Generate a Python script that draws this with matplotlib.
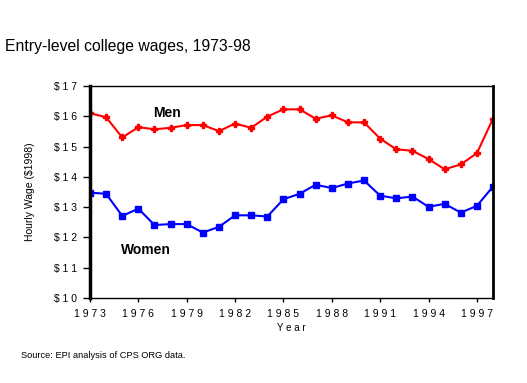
import matplotlib.pyplot as plt

plt.rcParams['font.family'] = ['Liberation Sans', 'DejaVu Sans']

years = list(range(1973, 1999))
men = [16.10, 15.97, 15.30, 15.64, 15.57, 15.62, 15.71, 15.71, 15.51, 15.76,
       15.62, 15.99, 16.23, 16.23, 15.92, 16.03, 15.80, 15.80, 15.26, 14.91,
       14.86, 14.59, 14.25, 14.41, 14.78, 15.92]
women = [13.48, 13.44, 12.71, 12.95, 12.41, 12.44, 12.44, 12.16, 12.35, 12.73,
         12.73, 12.69, 13.26, 13.44, 13.74, 13.63, 13.78, 13.88, 13.38, 13.29,
         13.35, 13.01, 13.11, 12.82, 13.04, 13.68]
y_ticks = [10, 11, 12, 13, 14, 15, 16, 17]
x_ticks = list(range(1973, 1998, 3))


def spaced(s):
    return ' '.join(s)


fig = plt.figure(figsize=(5.27, 3.83), dpi=100)
ax = fig.add_axes([90 / 527, 1 - 298 / 383, 403 / 527, 212 / 383])

ax.plot(years, men, color='#ff0000', lw=1.5, marker='P', markersize=5)
ax.plot(years, women, color='#0000ff', lw=1.5, marker='s', markersize=5)

ax.set_xlim(1973, 1998)
ax.set_ylim(10, 17)
ax.set_yticks(y_ticks)
ax.set_yticklabels([spaced('$' + str(v)) for v in y_ticks], fontsize=7.5)
ax.set_xticks(x_ticks)
ax.set_xticklabels([spaced(str(v)) for v in x_ticks], fontsize=7.5)
ax.tick_params(axis='y', length=5, width=1, pad=4)
ax.tick_params(axis='x', length=3, width=1, pad=5)

ax.spines['left'].set_linewidth(2.5)
ax.spines['right'].set_linewidth(2)
ax.spines['top'].set_linewidth(1)
ax.spines['bottom'].set_linewidth(1)

ax.text(1977.8, 16.1, 'Men', fontsize=10, fontweight='bold', ha='center', va='center')
ax.text(1976.5, 11.6, 'Women', fontsize=10, fontweight='bold', ha='center', va='center')

ax.set_ylabel('Hourly Wage ($1998)', fontsize=7.5, labelpad=14)
ax.set_xlabel(spaced('Year'), fontsize=7, labelpad=3)

fig.text(5 / 527, 1 - 47 / 383, 'Entry-level college wages, 1973-98', fontsize=11.3,
         ha='left', va='center')
fig.text(21 / 527, 1 - 356 / 383, 'Source: EPI analysis of CPS ORG data.', fontsize=6.7,
         ha='left', va='center')

fig.savefig('out.png', dpi=100)
